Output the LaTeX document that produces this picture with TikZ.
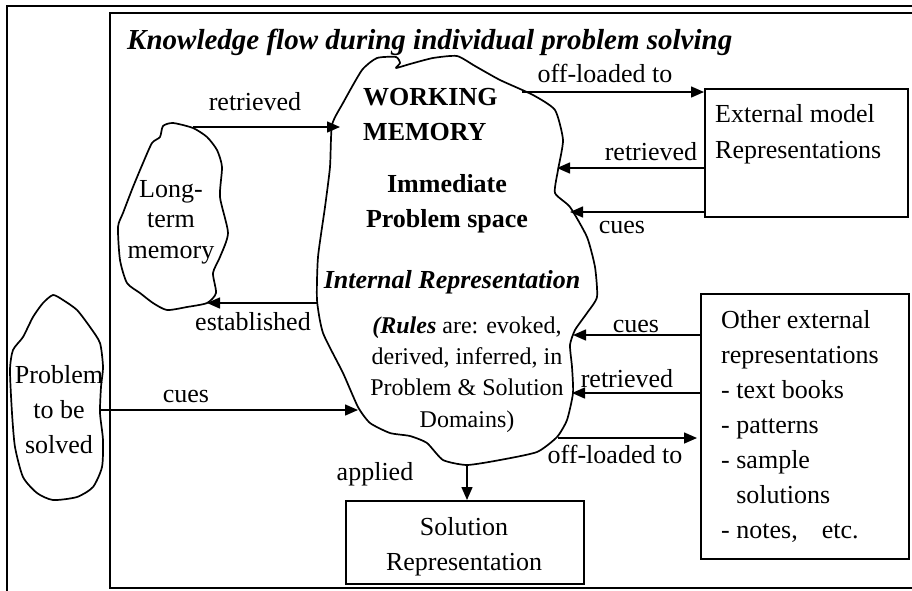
\documentclass[tikz,border=0pt]{standalone}
\usepackage{fontspec}
\setmainfont{Liberation Serif}
\usetikzlibrary{arrows.meta}
\begin{document}
\begin{tikzpicture}[x=1pt,y=-1pt,
  frame/.style={line width=2pt},
  conn/.style={line width=1.5pt, -{Triangle[length=13pt,width=11pt]}},
  lbl/.style={font=\fontsize{26}{31}\selectfont, anchor=base, inner sep=0},
  txt/.style={font=\fontsize{26}{35}\selectfont, inner sep=0},
  cloudline/.style={line width=1.7pt, line join=round},
  box/.style={draw, line width=1.7pt, anchor=north west, inner sep=0}]
\useasboundingbox (0,0) rectangle (912,590);
\clip (0,0) rectangle (912,590);
% frames
\draw[frame] (7,600) -- (7,6) -- (920,6);
\draw[frame] (920,13) -- (110,13) -- (110,588) -- (920,588);
% title
\node[anchor=base west, inner sep=0, font=\bfseries\itshape\fontsize{29}{34}\selectfont] (title) at (127,49) {Knowledge flow during individual problem solving};
% clouds
\draw[cloudline] plot[smooth cycle, tension=0.35] coordinates {
 (377,58) (396,57) (400,63) (396,68) (410,64) (433,58) (457,56) (475,66) (500,80)
 (533,95) (555,110) (563,140) (558,170) (555,193) (570,207) (587,237) (595,267)
 (597,297) (587,313) (575,330) (570,345) (572,367) (573,393) (567,420) (557,437)
 (537,452) (500,460) (467,465) (443,460) (427,443) (410,436) (390,433) (370,423)
 (358,407) (343,373) (323,333) (317,300) (318,257) (325,207) (330,167) (332,125)
 (343,103) (362,70)};
\draw[cloudline] plot[smooth cycle, tension=0.4] coordinates {
 (173,123) (193,128) (207,137) (217,150) (222,167) (220,197) (228,233) (220,257)
 (213,273) (216,293) (207,303) (187,307) (167,310) (153,303) (140,293) (127,283)
 (120,260) (118,227) (123,213) (133,187) (143,163) (152,143) (160,137) (163,126)};
\draw[cloudline] plot[smooth cycle, tension=0.4] coordinates {
 (53,295) (63,300) (77,310) (90,327) (100,343) (103,367) (101,387) (100,413)
 (103,440) (102,467) (93,487) (77,497) (53,500) (37,493) (23,477) (15,447)
 (12,413) (10,370) (13,350) (23,337) (33,317) (43,303)};
% cloud texts (base anchor = baseline of the last line)
\node[txt, anchor=base west, align=left, font=\bfseries\fontsize{26}{35}\selectfont] (wm) at (363,140) {WORKING\\MEMORY};
\node[txt, anchor=base, align=center, font=\bfseries\fontsize{26}{35}\selectfont] (ips) at (447,227) {Immediate\\Problem space};
\node[txt, anchor=base, font=\bfseries\itshape\fontsize{26}{35}\selectfont] (ir) at (452,288) {Internal Representation};
\node[txt, anchor=base, align=center, font=\fontsize{24}{31.3}\selectfont] (rules) at (467,427) {\textbf{\textit{(Rules}} are: evoked,\\derived, inferred, in\\Problem \& Solution\\Domains)};
\node[txt, anchor=base, align=center, font=\fontsize{26}{30.5}\selectfont] (ltm) at (171,258) {Long-\\term\\memory};
\node[txt, anchor=base, align=center] (prob) at (59,453) {Problem\\to be\\solved};
% boxes
\node[box, minimum width=203, minimum height=128] (ext) at (704,88) {};
\node[txt, anchor=base west, align=left, font=\fontsize{26}{36}\selectfont] (extt) at (715,158) {External model\\Representations};
\node[box, minimum width=208, minimum height=265] (oth) at (700,293) {};
\node[txt, anchor=base west, align=left] (otht) at (721,538) {Other external\\representations\\- text books\\- patterns\\- sample\\\phantom{-\ }solutions\\- notes,\hspace{24pt}etc.};
\node[box, minimum width=238, minimum height=83] (sol) at (345,500) {};
\node[txt, anchor=base, align=center] (solt) at (464,570) {Solution\\Representation};
% connector end points on cloud outlines
\coordinate (ltmT) at (193,127);
\coordinate (wmA) at (340,127);
\coordinate (wmB) at (522,92);
\coordinate (wmC) at (557,168);
\coordinate (wmD) at (570,212);
\coordinate (wmE) at (317,303);
\coordinate (ltmB) at (207,303);
\coordinate (prR) at (100,410);
\coordinate (wmF) at (358,410);
\coordinate (wmG) at (573,335);
\coordinate (wmH) at (572,393);
\coordinate (wmI) at (558,438);
\coordinate (wmJ) at (467,465);
% connectors
\draw[conn] (ltmT) -- (wmA);
\draw[conn] (wmB) -- (ext.west |- wmB);
\draw[conn] (ext.west |- wmC) -- (wmC);
\draw[conn] (ext.west |- wmD) -- (wmD);
\draw[conn] (wmE) -- (ltmB);
\draw[conn] (prR) -- (wmF);
\draw[conn] (oth.west |- wmG) -- (wmG);
\draw[conn] (oth.west |- wmH) -- (wmH);
\draw[conn] (wmI) -- ([xshift=-3pt]oth.west |- wmI);
\draw[conn] (wmJ) -- (sol.north -| wmJ);
% labels
\node[lbl] (l1) at (255,110) {retrieved};
\node[lbl] (l2) at (605,82) {off-loaded to};
\node[lbl] (l3) at (651,160) {retrieved};
\node[lbl] (l4) at (622,233) {cues};
\node[lbl] (l5) at (253,330) {established};
\node[lbl] (l6) at (186,402) {cues};
\node[lbl] (l7) at (375,480) {applied};
\node[lbl] (l8) at (636,332) {cues};
\node[lbl] (l9) at (627,387) {retrieved};
\node[lbl] (l10) at (615,463) {off-loaded to};
\end{tikzpicture}
\end{document}
